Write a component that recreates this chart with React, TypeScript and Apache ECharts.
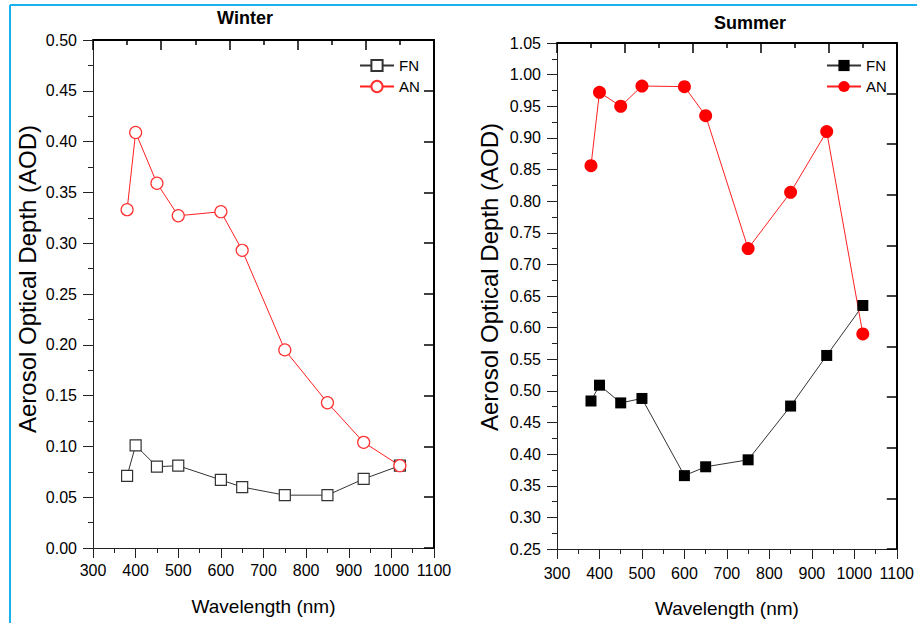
import React, { useEffect, useRef } from 'react';
import * as echarts from 'echarts';

const wavelengths = [380, 400, 450, 500, 600, 650, 750, 850, 935, 1020];
const winterFN = [0.071, 0.101, 0.080, 0.081, 0.067, 0.060, 0.052, 0.052, 0.068, 0.081];
const winterAN = [0.333, 0.409, 0.359, 0.327, 0.331, 0.293, 0.195, 0.143, 0.104, 0.081];
const summerFN = [0.484, 0.509, 0.481, 0.488, 0.366, 0.380, 0.391, 0.476, 0.556, 0.635];
const summerAN = [0.856, 0.972, 0.950, 0.982, 0.981, 0.935, 0.725, 0.814, 0.910, 0.590];

const panelTitles = ['Winter', 'Summer'];
const seriesNames = ['FN', 'AN'];
const xTitle = 'Wavelength (nm)';
const yTitle = 'Aerosol Optical Depth (AOD)';
const xRange = [300, 1100];
const winterY = [0, 0.5];
const summerY = [0.25, 1.05];

const FONT = '"Liberation Sans", Arial, sans-serif';

const pairs = (ys: number[]) => wavelengths.map((w, i) => [w, ys[i]]);

function bottomX(grid: number, margin: number, gap: number) {
  return {
    type: 'value', gridIndex: grid, position: 'bottom',
    min: xRange[0], max: xRange[1], interval: 100,
    name: xTitle, nameLocation: 'middle', nameGap: gap,
    nameTextStyle: { fontSize: 19, color: '#000', fontFamily: FONT },
    axisLine: { show: true, onZero: false, lineStyle: { color: '#222', width: 1 } },
    axisTick: { show: true, inside: false, length: 10, lineStyle: { color: '#222', width: 1 } },
    minorTick: { show: true, splitNumber: 2, length: 5, lineStyle: { color: '#222', width: 1 } },
    axisLabel: { fontSize: 16, color: '#000', fontFamily: FONT, margin, hideOverlap: false, showMinLabel: true, showMaxLabel: true, formatter: (v: number) => String(v) },
    splitLine: { show: false },
  };
}
function topX(grid: number) {
  return {
    type: 'value', gridIndex: grid, position: 'top',
    min: 0, max: 10, interval: 2,
    axisLine: { show: true, onZero: false, lineStyle: { color: '#000', width: 2 } },
    axisTick: { show: true, inside: true, length: 10, lineStyle: { color: '#000', width: 1.5 } },
    minorTick: { show: true, splitNumber: 2, length: 5, lineStyle: { color: '#000', width: 1.5 } },
    axisLabel: { show: false },
    splitLine: { show: false },
  };
}
function leftY(grid: number, range: number[]) {
  return {
    type: 'value', gridIndex: grid, position: 'left',
    min: range[0], max: range[1], interval: 0.05,
    axisLine: { show: true, onZero: false, lineStyle: { color: '#222', width: 1 } },
    axisTick: { show: true, inside: false, length: 10, lineStyle: { color: '#222', width: 1 } },
    minorTick: { show: true, splitNumber: 2, length: 5, lineStyle: { color: '#222', width: 1 } },
    axisLabel: { fontSize: 16, color: '#000', fontFamily: FONT, margin: 16, formatter: (v: number) => v.toFixed(2), showMinLabel: true, showMaxLabel: true },
    splitLine: { show: false },
  };
}
function rightY(grid: number, range: number[]) {
  return {
    type: 'value', gridIndex: grid, position: 'right',
    min: range[0], max: range[1], interval: (range[1] - range[0]) / 10,
    axisLine: { show: true, onZero: false, lineStyle: { color: '#000', width: 2 } },
    axisTick: { show: true, inside: true, length: 10, lineStyle: { color: '#000', width: 1.5 } },
    axisLabel: { show: false },
    splitLine: { show: false },
  };
}

export default function App() {
  const ref = useRef<HTMLDivElement>(null);
  useEffect(() => {
    if (!ref.current) return;
    const chart = echarts.init(ref.current, undefined, { renderer: 'svg' });
    const legendCommon = {
      orient: 'vertical', itemWidth: 34, itemHeight: 14, itemGap: 6, padding: 0,
      textStyle: { fontSize: 15, color: '#000', fontFamily: FONT },
      formatter: (n: string) => n.split(' ').pop(),
      selectedMode: false,
    };
    const yName = (x: number, y: number) => ({
      type: 'text', x, y, rotation: Math.PI / 2,
      style: { text: yTitle, font: `24px ${FONT}`, fill: '#000', textAlign: 'center', textVerticalAlign: 'middle' },
    });
    chart.setOption({
      animation: false,
      backgroundColor: '#fff',
      textStyle: { fontFamily: FONT },
      grid: [
        { left: 93, top: 40, width: 341, height: 508 },
        { left: 557, top: 43, width: 340, height: 508 },
      ],
      xAxis: [bottomX(0, 14, 49), topX(0), bottomX(1, 16, 50), topX(1)],
      yAxis: [leftY(0, winterY), rightY(0, winterY), leftY(1, summerY), rightY(1, summerY)],
      legend: [
        { ...legendCommon, left: 359, top: 58, data: ['Winter ' + seriesNames[0], 'Winter ' + seriesNames[1]] },
        { ...legendCommon, left: 826, top: 58, data: ['Summer ' + seriesNames[0], 'Summer ' + seriesNames[1]] },
      ],
      graphic: [
        { type: 'line', shape: { x1: 10, y1: 5, x2: 917, y2: 5 }, style: { stroke: '#19b2ee', lineWidth: 2 } },
        { type: 'line', shape: { x1: 10, y1: 5, x2: 10, y2: 623 }, style: { stroke: '#19b2ee', lineWidth: 2 } },
        { type: 'text', x: 245, y: 18, style: { text: panelTitles[0], font: `bold 18px ${FONT}`, fill: '#000', textAlign: 'center', textVerticalAlign: 'middle' } },
        { type: 'text', x: 750, y: 23, style: { text: panelTitles[1], font: `bold 18px ${FONT}`, fill: '#000', textAlign: 'center', textVerticalAlign: 'middle' } },
        yName(27, 279),
        yName(489, 277),
      ],
      series: [
        {
          name: 'Winter ' + seriesNames[0], type: 'line', xAxisIndex: 0, yAxisIndex: 0, data: pairs(winterFN),
          symbol: 'rect', symbolSize: 11, showAllSymbol: true,
          lineStyle: { color: '#333', width: 1 },
          itemStyle: { color: '#fff', borderColor: '#333', borderWidth: 1.2 },
        },
        {
          name: 'Winter ' + seriesNames[1], type: 'line', xAxisIndex: 0, yAxisIndex: 0, data: pairs(winterAN),
          symbol: 'circle', symbolSize: 12, showAllSymbol: true,
          lineStyle: { color: '#ff2020', width: 1 },
          itemStyle: { color: '#fff', borderColor: '#ff3030', borderWidth: 1.2 },
        },
        {
          name: 'Summer ' + seriesNames[0], type: 'line', xAxisIndex: 2, yAxisIndex: 2, data: pairs(summerFN),
          symbol: 'rect', symbolSize: 11, showAllSymbol: true,
          lineStyle: { color: '#333', width: 1 },
          itemStyle: { color: '#000', borderColor: '#000', borderWidth: 0 },
        },
        {
          name: 'Summer ' + seriesNames[1], type: 'line', xAxisIndex: 2, yAxisIndex: 2, data: pairs(summerAN),
          symbol: 'circle', symbolSize: 13, showAllSymbol: true,
          lineStyle: { color: '#ff2020', width: 1 },
          itemStyle: { color: '#ff0000', borderColor: '#ff0000', borderWidth: 0 },
        },
      ],
    });
    return () => chart.dispose();
  }, []);
  return <div ref={ref} style={{ position: 'fixed', left: 0, top: 0, width: 917, height: 623 }} />;
}
